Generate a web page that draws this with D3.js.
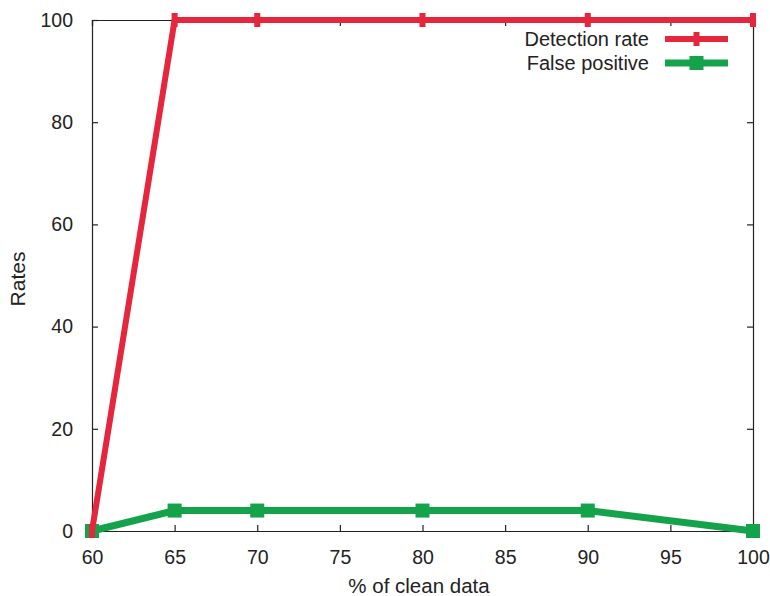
<!DOCTYPE html>
<html><head><meta charset="utf-8">
<script src="https://cdn.jsdelivr.net/npm/d3@7"></script>
<style>body{margin:0;background:#fff}svg{display:block}text{font-family:"Liberation Sans",Arial,sans-serif;fill:#222}</style>
</head><body><svg id="c" width="770" height="596"></svg>
<script>
const xValues = [60, 65, 70, 80, 90, 100];
const detectionRate = [0, 100, 100, 100, 100, 100];
const falsePositive = [0, 4, 4, 4, 4, 0];
const xTicks = [60, 65, 70, 75, 80, 85, 90, 95, 100];
const yTicks = [0, 20, 40, 60, 80, 100];
const seriesNames = ["Detection rate", "False positive"];
const colors = ["#e5263c", "#14a24a"];

const m = {l: 92, r: 17, t: 20, b: 65};
const W = 770, H = 596;
const svg = d3.select("#c");
const x = d3.scaleLinear().domain([60, 100]).range([m.l, W - m.r]);
const y = d3.scaleLinear().domain([0, 100]).range([H - m.b, m.t]);

const gB = svg.append("g").attr("transform", `translate(0,${y(0)})`)
  .call(d3.axisBottom(x).tickValues(xTicks).tickSize(-6).tickPadding(19));
const gT = svg.append("g").attr("transform", `translate(0,${y(100)})`)
  .call(d3.axisTop(x).tickValues(xTicks).tickSize(-6).tickFormat(""));
const gL = svg.append("g").attr("transform", `translate(${x(60)},0)`)
  .call(d3.axisLeft(y).tickValues(yTicks).tickSize(-6).tickPadding(19));
const gR = svg.append("g").attr("transform", `translate(${x(100)},0)`)
  .call(d3.axisRight(y).tickValues(yTicks).tickSize(-6).tickFormat(""));
[gB, gT, gL, gR].forEach(g => {
  g.select(".domain").attr("stroke", "#222").attr("stroke-width", 1.2);
  g.selectAll(".tick line").attr("stroke", "#222").attr("stroke-width", 1.2);
  g.selectAll("text").attr("font-size", 19.5).attr("fill", "#222")
    .style("font-family", '"Liberation Sans",Arial,sans-serif');
});

svg.append("text").attr("x", 419).attr("y", 593).attr("text-anchor", "middle")
  .attr("font-size", 20.5).text("% of clean data");
svg.append("text").attr("transform", "translate(25,279) rotate(-90)")
  .attr("text-anchor", "middle").attr("font-size", 21).text("Rates");

const line = d3.line().x(d => x(d[0])).y(d => y(d[1]));
const series = [detectionRate, falsePositive];

[1, 0].forEach(i => {
  const pts = xValues.map((v, j) => [v, series[i][j]]);
  svg.append("path").datum(pts).attr("d", line).attr("fill", "none")
    .attr("stroke", colors[i]).attr("stroke-width", i === 0 ? 6 : 7)
    .attr("stroke-linejoin", "miter");
  const g = svg.append("g");
  pts.forEach(p => {
    if (i === 1) {
      g.append("rect").attr("x", x(p[0]) - 7).attr("y", y(p[1]) - 7)
        .attr("width", 14).attr("height", 14).attr("fill", colors[i]);
    } else {
      g.append("rect").attr("x", x(p[0]) - 3).attr("y", y(p[1]) - 7)
        .attr("width", 6).attr("height", 14).attr("fill", colors[i]);
    }
  });
});

seriesNames.forEach((name, i) => {
  const ly = 39 + i * 24;
  svg.append("text").attr("x", 649).attr("y", ly + 7).attr("text-anchor", "end")
    .attr("font-size", 20).text(name);
  svg.append("line").attr("x1", 665).attr("x2", 728).attr("y1", ly).attr("y2", ly)
    .attr("stroke", colors[i]).attr("stroke-width", i === 0 ? 6 : 7);
  if (i === 1) {
    svg.append("rect").attr("x", 696.5 - 7).attr("y", ly - 7).attr("width", 14).attr("height", 14).attr("fill", colors[i]);
  } else {
    svg.append("rect").attr("x", 696.5 - 3).attr("y", ly - 7).attr("width", 6).attr("height", 14).attr("fill", colors[i]);
  }
});
</script></body></html>
